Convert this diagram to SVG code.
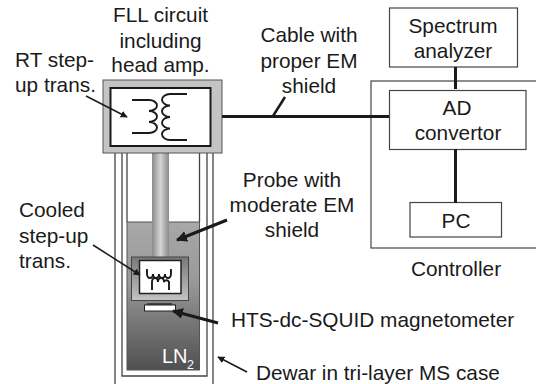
<svg xmlns="http://www.w3.org/2000/svg" width="536" height="384" viewBox="0 0 536 384">
<defs>
<style>
text{font-family:"Liberation Sans",Arial,sans-serif;font-size:20.8px;fill:#1a1a1a}
.m{text-anchor:middle}
.box{fill:#fff;stroke:#444;stroke-width:1.2}
.wire{fill:none;stroke:#1a1a1a;stroke-width:3}
.thin{fill:none;stroke:#444;stroke-width:1.3}
.coil{fill:none;stroke:#1a1a1a;stroke-width:1.9}
.arr{stroke:#1a1a1a;fill:none}
</style>
<linearGradient id="probe" x1="0" x2="1" y1="0" y2="0"><stop offset="0" stop-color="#8a8a8a"/><stop offset=".5" stop-color="#d4d4d4"/><stop offset="1" stop-color="#8a8a8a"/></linearGradient>
<linearGradient id="ln2" x1="0" x2="0" y1="0" y2="1"><stop offset="0" stop-color="#a8a8a8"/><stop offset=".4" stop-color="#999"/><stop offset="1" stop-color="#505050"/></linearGradient>
<linearGradient id="holder" x1="0" x2="0" y1="0" y2="1"><stop offset="0" stop-color="#777"/><stop offset="1" stop-color="#c4c4c4"/></linearGradient>
<marker id="ah" viewBox="0 0 10 10" refX="9" refY="5" markerWidth="7" markerHeight="7" markerUnits="userSpaceOnUse" orient="auto"><path d="M0 0L10 5L0 10Z" fill="#1a1a1a"/></marker>
<marker id="ahb" viewBox="0 0 10 10" refX="9" refY="5" markerWidth="11" markerHeight="11" markerUnits="userSpaceOnUse" orient="auto"><path d="M0 0L10 5L0 10Z" fill="#1a1a1a"/></marker>
</defs>
<g id="dewar">
<path class="thin" d="M115 152V384M213 152V384M122 152V376H207V152M127 152V222M199.500 152V222"/>
<rect x="127" y="222" width="72.500" height="148" fill="url(#ln2)" stroke="#555"/>
<text x="162" y="363" style="fill:#fff;font-size:20px">LN</text><text x="187" y="369" style="fill:#fff;font-size:12.500px">2</text>
</g>
<g id="probe-node">
<rect x="152" y="152" width="17" height="106" fill="url(#probe)"/>
<text x="292" y="187" class="m">Probe with</text><text x="292" y="212" class="m">moderate EM</text><text x="292" y="237" class="m">shield</text>
</g>
<g id="cooled-transformer">
<rect x="131.500" y="257" width="57" height="43.500" fill="url(#holder)" stroke="#444"/>
<rect x="139.500" y="260.500" width="41.500" height="33" fill="#fff" stroke="#222" stroke-width="1.500"/>
<path class="coil" d="M147 269V274a3 4 0 0 0 6 0a3 4 0 0 0 6 0a3 4 0 0 0 6 0a3 4 0 0 0 6 0V269M152 290V282a3 4 0 0 1 6 0a3 4 0 0 1 6 0a3 4 0 0 1 5 0V290"/>
<text x="19" y="217">Cooled</text><text x="19" y="243">step-up</text><text x="19" y="268">trans.</text>
</g>
<g id="squid">
<rect x="147" y="303" width="25" height="2" fill="#444"/>
<rect x="144.500" y="305" width="31" height="6" fill="#fff" stroke="#222"/>
<text x="231" y="327">HTS-dc-SQUID magnetometer</text>
</g>
<g id="fll-circuit">
<rect x="103" y="80" width="119" height="73" fill="#c4c4c4" stroke="#555"/>
<rect x="110.500" y="88" width="100" height="58" fill="#fff" stroke="#1a1a1a" stroke-width="2"/>
<path class="coil" d="M132 100H149a8 5.500 0 0 1 0 11a8 5.500 0 0 1 0 11a8 5.500 0 0 1 0 11H132M187 94H170a8 5.750 0 0 0 0 11.500a8 5.750 0 0 0 0 11.500a8 5.750 0 0 0 0 11.500a8 5.750 0 0 0 0 11.500H187"/>
<text x="160.500" y="22" class="m">FLL circuit</text><text x="160.500" y="47.500" class="m">including</text><text x="160.500" y="71.500" class="m">head amp.</text>
<text x="15" y="67">RT step-</text><text x="15" y="91.500">up trans.</text>
</g>
<g id="spectrum-analyzer">
<rect class="box" x="389.500" y="8" width="128" height="59"/>
<text x="453" y="33" class="m">Spectrum</text><text x="453" y="58" class="m">analyzer</text>
</g>
<g id="controller">
<rect class="box" style="fill:none" x="371" y="81" width="170" height="167"/>
<text x="456" y="276" class="m">Controller</text>
</g>
<g id="ad-convertor">
<rect class="box" x="389.500" y="90.500" width="136.500" height="59"/>
<text x="457" y="115" class="m">AD</text><text x="458" y="140" class="m">convertor</text>
</g>
<g id="pc">
<rect class="box" x="410" y="202.500" width="91.500" height="34.500"/>
<text x="456" y="228" class="m">PC</text>
</g>
<g id="connectors">
<path class="wire" d="M222 116.500H389M455.500 67V89M455.500 149V203"/>
<path class="arr" stroke-width="2.500" d="M285 97L273 116"/>
<path class="arr" stroke-width="1.500" marker-end="url(#ah)" d="M86 96L127 117"/>
<path class="arr" stroke-width="3" marker-end="url(#ahb)" d="M227 220L177 240"/>
<path class="arr" stroke-width="1.500" marker-end="url(#ah)" d="M93 245L140 275"/>
<path class="arr" stroke-width="3" marker-end="url(#ahb)" d="M218 323L173 311"/>
<path class="arr" stroke-width="1.500" marker-end="url(#ah)" d="M247 372L218 357"/>
</g>
<text id="cable-label" x="309" y="42" class="m">Cable with</text>
<text x="309" y="68" class="m">proper EM</text>
<text x="309" y="93" class="m">shield</text>
<text x="256" y="380">Dewar in tri-layer MS case</text>
</svg>
